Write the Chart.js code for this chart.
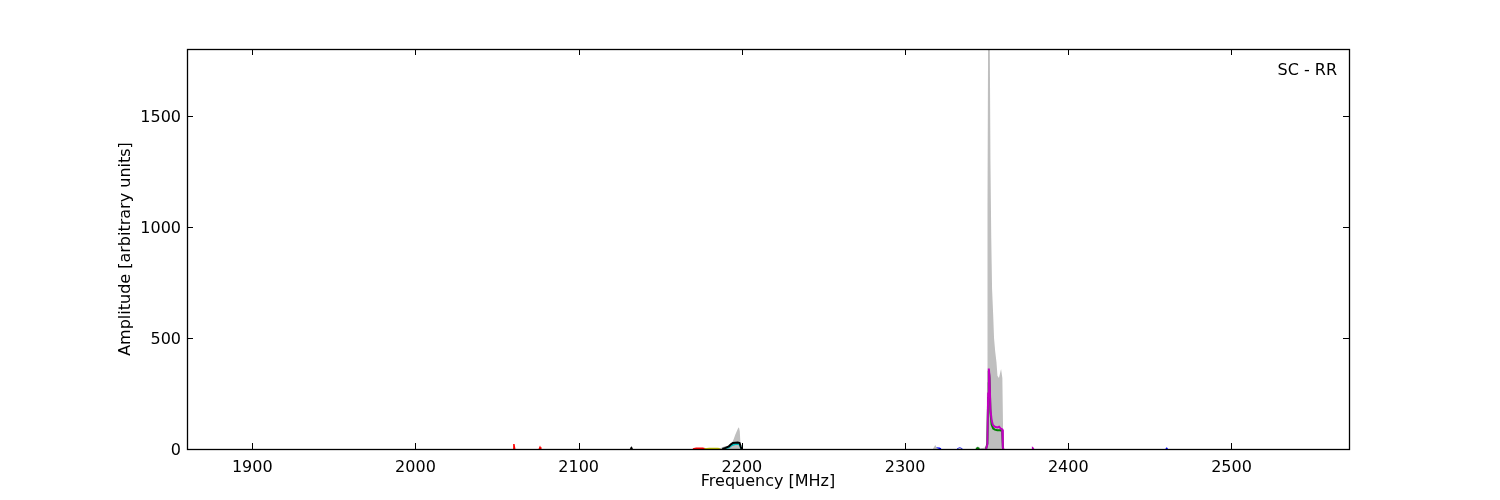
<!DOCTYPE html>
<html>
<head>
<meta charset="utf-8">
<title>SC - RR spectrum</title>
<script src="https://cdn.jsdelivr.net/npm/chart.js@4.4.1/dist/chart.umd.min.js"></script>
<style>
  body { margin: 0; background: #fff; }
  canvas { display: block; }
</style>
</head>
<body>
<canvas id="spectrum" width="1500" height="500"></canvas>
<script>
// axis ticks
const xTicks = [1900, 2000, 2100, 2200, 2300, 2400, 2500];
const yTicks = [0, 500, 1000, 1500];

// grey envelope (max hold)
const greyFreq = [2186, 2188, 2190, 2192, 2193, 2194, 2195, 2196, 2197, 2197.6, 2198.2, 2198.7, 2199.3,
  2317, 2318.5, 2319.5, 2321, 2332, 2333.5, 2335, 2343, 2344.5, 2346, 2348.5, 2349.5,
  2349.9, 2350.2, 2350.5, 2350.9, 2351.8, 2352.3, 2352.8, 2353.3, 2354.0, 2354.5, 2355.2,
  2356.0, 2356.6, 2357.5, 2358.8, 2359.6, 2360.2];
const greyAmp = [0, 8, 14, 12, 18, 28, 45, 65, 82, 92, 98, 80, 0,
  0, 18, 5, 0, 0, 6, 0, 0, 12, 3, 6, 10,
  30, 300, 1100, 1950, 1950, 1300, 950, 720, 600, 500, 440,
  390, 330, 320, 360, 320, 0];

// magenta
const magFreq = [2349.6, 2350.4, 2350.9, 2351.3, 2351.7, 2352.3, 2353.0, 2353.8, 2355.0, 2356.5, 2357.6, 2358.6, 2359.5, 2359.9, 2360.5,
  null, 2377.8, 2378.3, 2378.8];
const magAmp = [0, 20, 250, 362, 330, 180, 130, 108, 100, 97, 100, 92, 88, 5, 0,
  null, 0, 3, 0];

// green
const greenFreq = [2343.5, 2344.5, 2345.5, null, 2349.6, 2350.4, 2350.9, 2351.3, 2351.7, 2352.3, 2353.0, 2354.0, 2355.0, 2356.5, 2358.5, 2359.5, 2360.0];
const greenAmp = [0, 4, 0, null, 0, 25, 230, 352, 320, 165, 110, 92, 87, 84, 84, 80, 0];

// black
const blackFreq = [2131.8, 2132.3, 2132.8, null, 2188, 2190, 2192, 2193.5, 2194.5, 2196, 2197.5, 2198.6, 2199.3, 2199.8];
const blackAmp = [0, 5, 0, null, 0, 5, 12, 22, 27, 28, 29, 27, 10, 0];

// cyan
const cyanFreq = [2189, 2190, 2192, 2194, 2196, 2198, 2199, 2199.6];
const cyanAmp = [0, 3, 8, 18, 22, 24, 15, 0];

// red
const redFreq = [2059.8, 2060.3, 2060.8, null, 2075.8, 2076.3, 2076.8, null, 2170, 2172, 2176, 2178];
const redAmp = [0, 22, 0, null, 0, 8, 0, null, 0, 3, 3, 0];

// olive
const oliveFreq = [2177, 2180, 2185, 2188];
const oliveAmp = [0, 2, 2, 0];

// blue
const blueFreq = [2318, 2319, 2321, 2322, null, 2332, 2333.5, 2335, null, 2459.8, 2460.3, 2460.8];
const blueAmp = [0, 4, 3, 0, null, 0, 4, 0, null, 0, 3, 0];

function toPoints(freq, amp) {
    return freq.map((f, i) => (f === null ? { x: null, y: null } : { x: f, y: amp[i] }));
}

function lineSet(label, freq, amp, color, width) {
    return {
        label: label,
        data: toPoints(freq, amp),
        borderColor: color,
        borderWidth: width,
        pointRadius: 0,
        tension: 0,
        fill: false,
        spanGaps: false
    };
}

// frame, inward ticks on all four sides, and the corner label
const framePlugin = {
    id: 'frame',
    afterDatasetsDraw(chart) {
        const { ctx, chartArea: a, scales: { x, y } } = chart;
        const len = 6;
        ctx.save();
        ctx.strokeStyle = '#000';
        ctx.lineWidth = 1;
        ctx.beginPath();
        xTicks.forEach(v => {
            const px = Math.round(x.getPixelForValue(v)) + 0.5;
            ctx.moveTo(px, a.bottom); ctx.lineTo(px, a.bottom - len);
            ctx.moveTo(px, a.top); ctx.lineTo(px, a.top + len);
        });
        yTicks.forEach(v => {
            const py = Math.round(y.getPixelForValue(v)) + 0.5;
            ctx.moveTo(a.left, py); ctx.lineTo(a.left + len, py);
            ctx.moveTo(a.right, py); ctx.lineTo(a.right - len, py);
        });
        ctx.stroke();
        ctx.lineWidth = 1.3;
        ctx.strokeRect(Math.round(a.left) + 0.5, Math.round(a.top) + 0.5, Math.round(a.width), Math.round(a.height));
        ctx.fillStyle = '#000';
        ctx.font = '16px "DejaVu Sans"';
        ctx.textAlign = 'right';
        ctx.textBaseline = 'middle';
        ctx.fillText('SC - RR', a.right - 12, a.top + 22);
        ctx.restore();
    }
};

const tickFont = { family: '"DejaVu Sans"', size: 16 };

// dataset 0 is drawn on top
new Chart(document.getElementById('spectrum').getContext('2d'), {
    type: 'line',
    data: {
        datasets: [
            lineSet('magenta', magFreq, magAmp, '#bf00bf', 2),
            lineSet('green', greenFreq, greenAmp, '#008000', 2),
            lineSet('black', blackFreq, blackAmp, '#000000', 2),
            lineSet('cyan', cyanFreq, cyanAmp, '#00bfbf', 2),
            {
                label: 'envelope',
                data: toPoints(greyFreq, greyAmp),
                borderWidth: 0,
                borderColor: 'rgba(0,0,0,0)',
                backgroundColor: '#bfbfbf',
                pointRadius: 0,
                tension: 0,
                fill: 'origin'
            },
            lineSet('blue', blueFreq, blueAmp, '#0000ff', 1.5),
            lineSet('olive', oliveFreq, oliveAmp, '#bfbf00', 1.5),
            lineSet('red', redFreq, redAmp, '#ff0000', 1.5)
        ]
    },
    options: {
        responsive: false,
        animation: false,
        layout: { padding: { left: 112, right: 151, top: 49, bottom: 5 } },
        plugins: { legend: { display: false }, tooltip: { enabled: false } },
        scales: {
            x: {
                type: 'linear',
                min: 1860,
                max: 2572,
                grid: { display: false, drawTicks: false },
                border: { display: false },
                afterBuildTicks: scale => { scale.ticks = xTicks.map(v => ({ value: v })); },
                afterFit: scale => { scale.height = 46; },
                ticks: { font: tickFont, color: '#000', padding: 9, maxRotation: 0, autoSkip: false, callback: v => String(v) },
                title: { display: true, text: 'Frequency [MHz]', font: tickFont, color: '#000' }
            },
            y: {
                type: 'linear',
                min: 0,
                max: 1800,
                grid: { display: false, drawTicks: false },
                border: { display: false },
                afterBuildTicks: scale => { scale.ticks = yTicks.map(v => ({ value: v })); },
                afterFit: scale => { scale.width = 75; },
                ticks: { font: tickFont, color: '#000', padding: 6, labelOffset: 2, autoSkip: false, callback: v => String(v) },
                title: { display: true, text: 'Amplitude [arbitrary units]', font: tickFont, color: '#000' }
            }
        }
    },
    plugins: [framePlugin]
});
</script>
</body>
</html>
